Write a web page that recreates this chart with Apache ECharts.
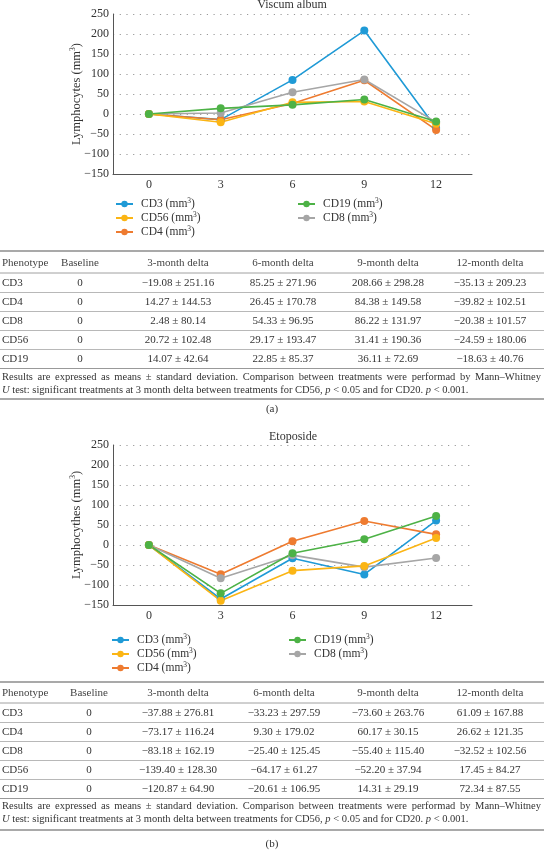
<!DOCTYPE html>
<html><head><meta charset="utf-8">
<script src="https://cdn.jsdelivr.net/npm/echarts@6/dist/echarts.min.js"></script>
<style>html,body{margin:0;padding:0;background:#fff}#c{width:544px;height:853px}</style>
</head><body><div id="c"></div>
<script>
// ---------- data ----------
const months = ['0', '3', '6', '9', '12'];
const seriesOrder = ['CD3', 'CD4', 'CD8', 'CD56', 'CD19'];
const legendLeftNames = ['CD3', 'CD56', 'CD4'];
const legendRightNames = ['CD19', 'CD8'];

const viscumCD3 = [0, -14, 85.25, 208.66, -35.13];
const viscumCD4 = [0, -14.27, 26.45, 84.38, -39.82];
const viscumCD8 = [0, 2.48, 54.33, 86.22, -20.38];
const viscumCD56 = [0, -20.72, 29.17, 31.41, -24.59];
const viscumCD19 = [0, 14.07, 22.85, 36.11, -18.63];

const etoCD3 = [0, -135, -33.23, -73.60, 61.09];
const etoCD4 = [0, -73.17, 9.30, 60.17, 26.62];
const etoCD8 = [0, -83.18, -25.40, -55.40, -32.52];
const etoCD56 = [0, -139.40, -64.17, -52.20, 17.45];
const etoCD19 = [0, -120.87, -20.61, 14.31, 72.34];

const tableHeader = ['Phenotype', 'Baseline', '3-month delta', '6-month delta', '9-month delta', '12-month delta'];
const tableARows = [
  ['CD3', '0', '\u221219.08 \u00b1 251.16', '85.25 \u00b1 271.96', '208.66 \u00b1 298.28', '\u221235.13 \u00b1 209.23'],
  ['CD4', '0', '14.27 \u00b1 144.53', '26.45 \u00b1 170.78', '84.38 \u00b1 149.58', '\u221239.82 \u00b1 102.51'],
  ['CD8', '0', '2.48 \u00b1 80.14', '54.33 \u00b1 96.95', '86.22 \u00b1 131.97', '\u221220.38 \u00b1 101.57'],
  ['CD56', '0', '20.72 \u00b1 102.48', '29.17 \u00b1 193.47', '31.41 \u00b1 190.36', '\u221224.59 \u00b1 180.06'],
  ['CD19', '0', '14.07 \u00b1 42.64', '22.85 \u00b1 85.37', '36.11 \u00b1 72.69', '\u221218.63 \u00b1 40.76']
];
const tableBRows = [
  ['CD3', '0', '\u221237.88 \u00b1 276.81', '\u221233.23 \u00b1 297.59', '\u221273.60 \u00b1 263.76', '61.09 \u00b1 167.88'],
  ['CD4', '0', '\u221273.17 \u00b1 116.24', '9.30 \u00b1 179.02', '60.17 \u00b1 30.15', '26.62 \u00b1 121.35'],
  ['CD8', '0', '\u221283.18 \u00b1 162.19', '\u221225.40 \u00b1 125.45', '\u221255.40 \u00b1 115.40', '\u221232.52 \u00b1 102.56'],
  ['CD56', '0', '\u2212139.40 \u00b1 128.30', '\u221264.17 \u00b1 61.27', '\u221252.20 \u00b1 37.94', '17.45 \u00b1 84.27'],
  ['CD19', '0', '\u2212120.87 \u00b1 64.90', '\u221220.61 \u00b1 106.95', '14.31 \u00b1 29.19', '72.34 \u00b1 87.55']
];
const noteLine1 = 'Results are expressed as means \u00b1 standard deviation. Comparison between treatments were performad by Mann\u2013Whitney';
const noteLine2 = '{i|U} test: significant treatments at 3 month delta between treatments for CD56, {i|p} < 0.05 and for CD20. {i|p} < 0.001.';

// ---------- styling ----------
const FONT = '"Liberation Serif", "DejaVu Serif", serif';
const TXT = '#333';
const TFS = 11;   // table font size
const NFS = 10.5; // note font size
const colors = { CD3: '#1f9ad6', CD4: '#ee7b30', CD8: '#a6a6a6', CD56: '#fbb514', CD19: '#4db246' };
const seriesDataA = { CD3: viscumCD3, CD4: viscumCD4, CD8: viscumCD8, CD56: viscumCD56, CD19: viscumCD19 };
const seriesDataB = { CD3: etoCD3, CD4: etoCD4, CD8: etoCD8, CD56: etoCD56, CD19: etoCD19 };

function supRich(fs) {
  return {
    a: { fontFamily: FONT, fontSize: fs, color: TXT, lineHeight: 15 },
    s: { fontFamily: FONT, fontSize: 7.5, color: TXT, lineHeight: 15, padding: [0, 0, 6, 0] }
  };
}

function yAxis(gridIndex, name) {
  return {
    type: 'value', gridIndex, min: -150, max: 250, interval: 50,
    name: '{a|' + name + ' (mm}{s|3}{a|)}', nameLocation: 'middle', nameGap: 29,
    nameMoveOverlap: false,
    nameTextStyle: { rich: supRich(12.5) },
    axisLine: { show: true, lineStyle: { color: '#555', width: 1 } },
    axisTick: { show: false },
    axisLabel: { color: TXT, fontFamily: FONT, fontSize: 12, margin: 4,
      formatter: v => (v < 0 ? '\u2212' + Math.abs(v) : String(v)) },
    splitLine: { show: true, lineStyle: { color: '#9a9a9a', type: [1.2, 5.5], width: 1 } }
  };
}
function xAxis(gridIndex) {
  return {
    type: 'category', gridIndex, data: months, boundaryGap: true,
    axisLine: { onZero: false, lineStyle: { color: '#555', width: 1 } },
    axisTick: { alignWithLabel: true, inside: true, length: 3, lineStyle: { color: '#555' } },
    axisLabel: { color: TXT, fontFamily: FONT, fontSize: 12, margin: 5 },
    splitLine: { show: false }
  };
}
function makeSeries(dataMap, idx) {
  return seriesOrder.map(n => ({
    name: n, type: 'line', xAxisIndex: idx, yAxisIndex: idx,
    data: dataMap[n], symbol: 'circle', symbolSize: 8, showSymbol: true,
    lineStyle: { color: colors[n], width: 1.6 }, itemStyle: { color: colors[n] },
    animation: false, z: 2
  }));
}
function legend(names, left, top) {
  return {
    data: names, orient: 'vertical', left, top, padding: 0, itemGap: 0,
    itemWidth: 17, itemHeight: 8, selectedMode: false,
    formatter: n => '{a|' + n + ' (mm}{s|3}{a|)}',
    textStyle: { color: TXT, fontFamily: FONT, fontSize: 11.5, rich: supRich(11.5), padding: [0, 0, 0, 3] }
  };
}

// ---------- tables (graphic) ----------
const graphics = [];
function txt(x, y, text, align, extra) {
  graphics.push({ type: 'text', x, y, silent: true,
    style: Object.assign({ text, fontFamily: FONT, fontSize: TFS, fill: TXT, align: align || 'center', verticalAlign: 'middle' }, extra || {}) });
}
function hline(y, color, w) {
  graphics.push({ type: 'line', silent: true, shape: { x1: 0, y1: y, x2: 544, y2: y }, style: { stroke: color, lineWidth: w } });
}
const measureCtx = document.createElement('canvas').getContext('2d');
function justified(y, text, x0, x1) {
  measureCtx.font = NFS + 'px ' + FONT;
  const words = text.split(' ');
  const widths = words.map(w => measureCtx.measureText(w).width);
  const total = widths.reduce((a, b) => a + b, 0);
  const gap = (x1 - x0 - total) / (words.length - 1);
  let x = x0;
  words.forEach((w, i) => { txt(x, y, w, 'left', { fontSize: NFS }); x += widths[i] + gap; });
}
function buildTable(rows, cols, top, headerY, rowY0, rowStep, noteY, bottom, label, labelY) {
  hline(top, '#555', 1.2);
  tableHeader.forEach((h, i) => txt(cols[i], headerY, h, i === 0 ? 'left' : 'center', { fill: '#444' }));
  hline(headerY + 10, '#888', 0.8);
  rows.forEach((r, ri) => {
    const y = rowY0 + ri * rowStep;
    r.forEach((c, ci) => txt(cols[ci], y, c, ci === 0 ? 'left' : 'center'));
    hline(y + rowStep / 2, '#999', ri === rows.length - 1 ? 1 : 0.7);
  });
  justified(noteY, noteLine1, 2, 541);
  txt(2, noteY + 13, noteLine2, 'left', { fontSize: NFS, rich: { i: { fontFamily: FONT, fontSize: NFS, fontStyle: 'italic', fill: TXT } } });
  hline(bottom, '#555', 1.2);
  txt(272, labelY, label, 'center');
}
buildTable(tableARows, [2, 80, 178, 283, 388, 490], 251, 263, 283, 19, 377, 399, '(a)', 409);
buildTable(tableBRows, [2, 89, 178, 284, 388, 490], 682, 693, 713, 19, 806, 830, '(b)', 844);

txt(292, 5, 'Viscum album', 'center', { fontSize: 12 });
txt(293, 437, 'Etoposide', 'center', { fontSize: 12 });

const chart = echarts.init(document.getElementById('c'), null, { renderer: 'canvas' });
chart.setOption({
  animation: false,
  backgroundColor: '#fff',
  grid: [
    { left: 113, right: 72, top: 14, height: 160 },
    { left: 113, right: 72, top: 445, height: 160 }
  ],
  xAxis: [xAxis(0), xAxis(1)],
  yAxis: [yAxis(0, 'Lymphocytes'), yAxis(1, 'Lymphocythes')],
  legend: [
    legend(legendLeftNames, 115, 197), legend(legendRightNames, 297, 197),
    legend(legendLeftNames, 111, 633), legend(legendRightNames, 288, 633)
  ],
  series: makeSeries(seriesDataA, 0).concat(makeSeries(seriesDataB, 1)),
  graphic: graphics
});
</script></body></html>
